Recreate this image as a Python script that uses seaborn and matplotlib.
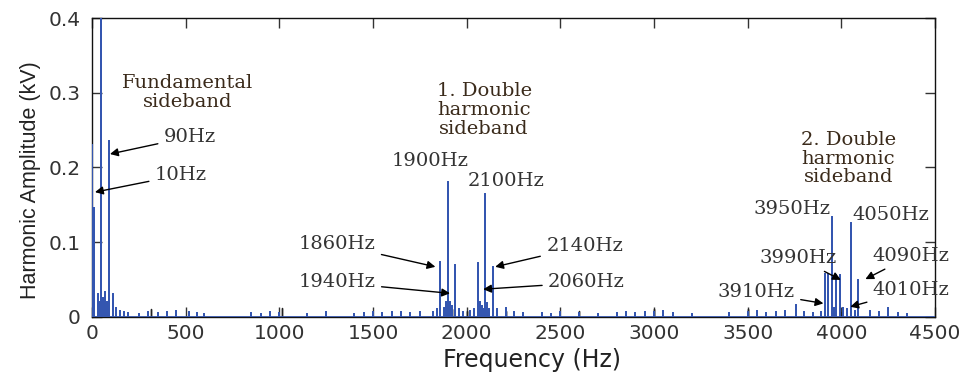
import numpy as np
import pandas as pd
import matplotlib
matplotlib.use('Agg')
import matplotlib.pyplot as plt
import seaborn as sns

sns.set_style('ticks')

# main spectral lines (Hz, kV)
peak_freq = [2, 10, 30, 40, 50, 60, 70, 80, 90, 110, 130, 150, 170, 190,
             1820, 1840, 1860, 1880, 1890, 1900, 1910, 1920, 1940, 1960, 1980,
             2020, 2040, 2060, 2070, 2080, 2090, 2100, 2110, 2120, 2140, 2160, 2210,
             3760, 3890, 3910, 3930, 3950, 3960, 3970, 3990, 4010, 4030, 4050, 4070, 4090, 4250]
peak_amp = [0.23, 0.146, 0.03, 0.02, 0.40, 0.025, 0.033, 0.02, 0.235, 0.03, 0.012, 0.008, 0.006, 0.005,
            0.006, 0.01, 0.074, 0.012, 0.02, 0.181, 0.02, 0.015, 0.070, 0.01, 0.006,
            0.008, 0.01, 0.072, 0.02, 0.015, 0.01, 0.164, 0.018, 0.01, 0.067, 0.01, 0.012,
            0.016, 0.006, 0.058, 0.058, 0.134, 0.012, 0.056, 0.056, 0.012, 0.01, 0.125, 0.008, 0.05, 0.012]

# low-level blue noise lines
noise_freq = [250, 300, 350, 400, 450, 520, 560, 600, 850, 900, 950, 1000, 1150, 1250,
              1400, 1450, 1500, 1550, 1600, 1650, 1700, 1750, 2250, 2300, 2400, 2450,
              2500, 2600, 2700, 2800, 2850, 2900, 2950, 3000, 3050, 3100, 3200, 3400,
              3500, 3550, 3600, 3650, 3700, 3800, 3850, 4150, 4200, 4300, 4350]
noise_amp = [0.004, 0.006, 0.005, 0.007, 0.008, 0.006, 0.005, 0.004, 0.005, 0.004, 0.006, 0.005, 0.004, 0.006,
             0.004, 0.005, 0.006, 0.005, 0.007, 0.006, 0.005, 0.007, 0.006, 0.005, 0.005, 0.004,
             0.006, 0.005, 0.004, 0.005, 0.006, 0.005, 0.007, 0.006, 0.008, 0.005, 0.004, 0.005,
             0.006, 0.008, 0.005, 0.006, 0.008, 0.007, 0.005, 0.008, 0.006, 0.005, 0.004]

# black low-level lines
black_freq = [70, 315, 1015, 1930, 2000, 2210, 2600, 3000, 3500, 3950, 4000]
black_amp = [0.006, 0.01, 0.012, 0.01, 0.008, 0.008, 0.008, 0.01, 0.01, 0.008, 0.006]

annotations = [
    # text, text x, text y, arrow x, arrow y
    ('90Hz', 523, 0.241, 96, 0.218),
    ('10Hz', 475, 0.190, 16, 0.167),
    ('1860Hz', 1308, 0.097, 1833, 0.067),
    ('1940Hz', 1308, 0.046, 1911, 0.0315),
    ('2140Hz', 2630, 0.095, 2152, 0.067),
    ('2060Hz', 2640, 0.046, 2088, 0.037),
    ('3990Hz', 3769, 0.079, 3997, 0.0495),
    ('3910Hz', 3545, 0.033, 3904, 0.018),
    ('4090Hz', 4373, 0.082, 4128, 0.0505),
    ('4010Hz', 4373, 0.036, 4047, 0.0135),
]
plain_labels = [
    ('1900Hz', 1805, 0.209),
    ('2100Hz', 2209, 0.182),
    ('3950Hz', 3737, 0.144),
    ('4050Hz', 4264, 0.137),
]
headers = [
    ('Fundamental\nsideband', 512, 0.300),
    ('1. Double\nharmonic\nsideband', 2093, 0.277),
    ('2. Double\nharmonic\nsideband', 4036, 0.212),
]


def stems(freq, amp):
    xs, ys = [0.0], [0.0]
    for f, a in sorted(zip(freq, amp)):
        xs += [f, f, f]
        ys += [0.0, a, 0.0]
    xs.append(4500.0)
    ys.append(0.0)
    return pd.DataFrame({'f': xs, 'a': ys})


blue_df = stems(peak_freq + noise_freq, peak_amp + noise_amp)
black_df = stems(black_freq, black_amp)

fig = plt.figure(figsize=(9.68, 3.85), dpi=100)
ax = fig.add_axes([0.095, 0.177, 0.871, 0.776])

sns.lineplot(data=black_df, x='f', y='a', estimator=None, sort=False,
             color='#222222', lw=1.0, ax=ax)
sns.lineplot(data=blue_df, x='f', y='a', estimator=None, sort=False,
             color='#3456b0', lw=1.2, ax=ax, zorder=3)

ax.set_xlim(0, 4500)
ax.set_ylim(0, 0.4)
ax.set_xticks(np.arange(0, 4501, 500))
ax.set_yticks([0, 0.1, 0.2, 0.3, 0.4])
ax.set_yticklabels(['0', '0.1', '0.2', '0.3', '0.4'])
ax.tick_params(direction='in', length=7, width=1, top=True, right=True,
               labelsize=14.5, colors='#333333')
ax.tick_params(axis='y', pad=8)
ax.tick_params(axis='x', pad=5)
for lab in ax.get_xticklabels() + ax.get_yticklabels():
    lab.set_family('DejaVu Sans')
for sp in ax.spines.values():
    sp.set_visible(True)
    sp.set_color('#111111')
    sp.set_linewidth(1.0)

ax.set_xlabel('Frequency (Hz)', family='DejaVu Sans', fontsize=17, color='#222222')
ax.set_ylabel('Harmonic Amplitude (kV)', family='Liberation Sans', fontsize=15.5,
              color='#222222')
ax.xaxis.set_label_coords(0.522, -0.105)
ax.yaxis.set_label_coords(-0.06, 0.458)

serif = dict(family='DejaVu Serif', fontsize=14, color='#333333')
for txt, tx, ty, px, py in annotations:
    ax.annotate(txt, xy=(px, py), xytext=(tx, ty), ha='center', va='center',
                annotation_clip=False,
                arrowprops=dict(arrowstyle='-|>', color='black', lw=1.0,
                                mutation_scale=12, shrinkA=2, shrinkB=0),
                **serif)
for txt, tx, ty in plain_labels:
    ax.text(tx, ty, txt, ha='center', va='center', **serif)
for txt, tx, ty in headers:
    ax.text(tx, ty, txt, ha='center', va='center', linespacing=1.05,
            family='DejaVu Serif', fontsize=14, color='#3a2a1a')

fig.savefig('out.png', dpi=100)
